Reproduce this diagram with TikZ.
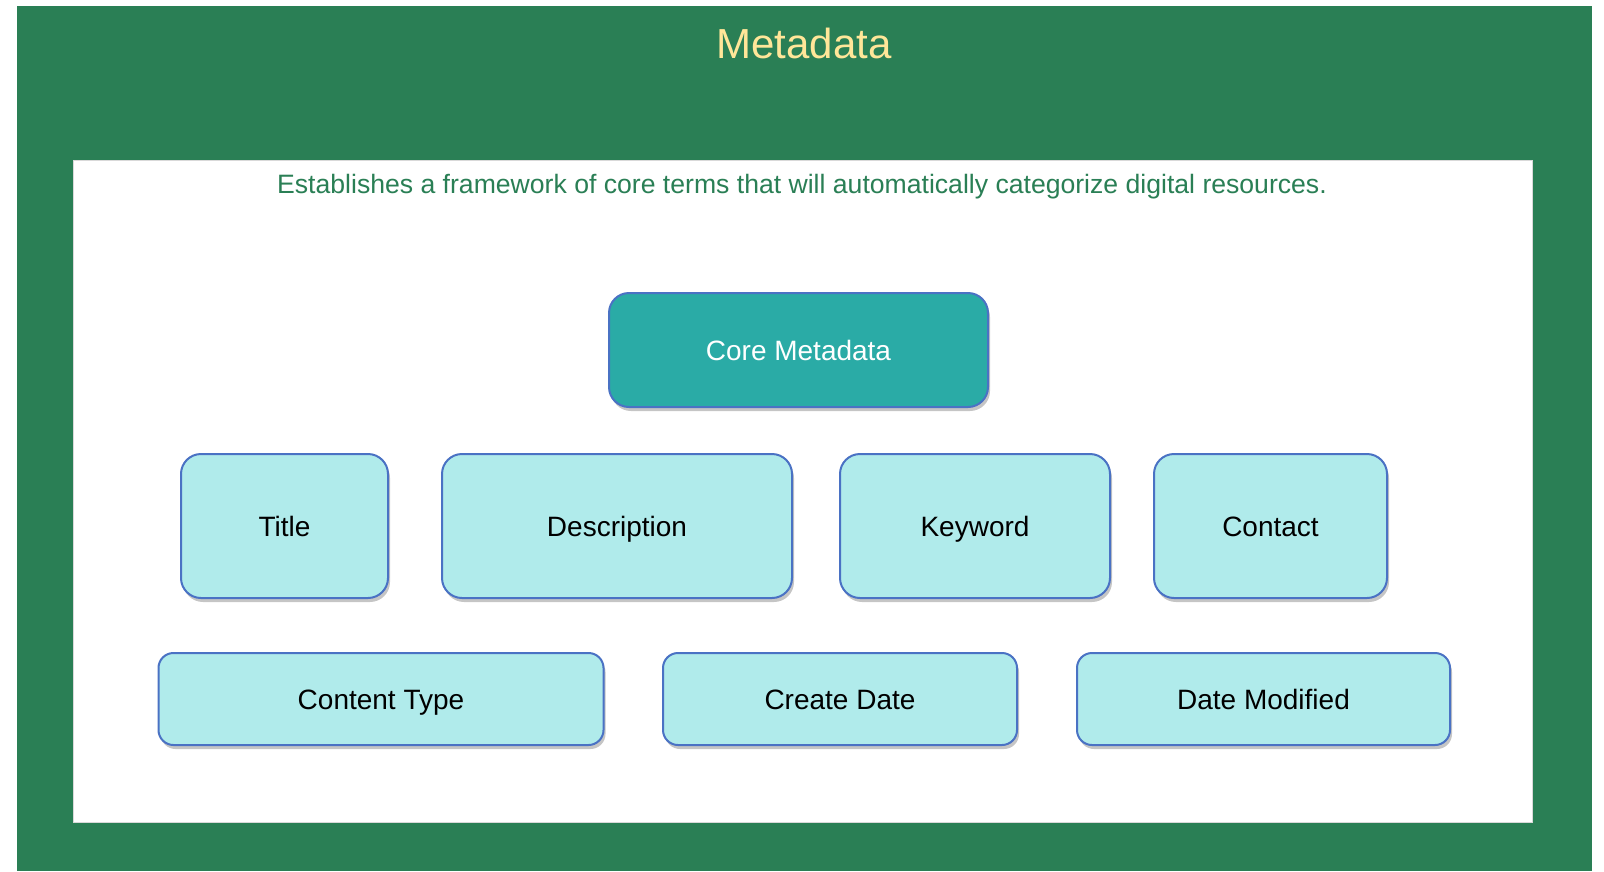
\documentclass[tikz,border=0pt]{standalone}
\usepackage{fontspec}
\setmainfont{Liberation Sans}
\usetikzlibrary{shadows}
\definecolor{bggreen}{RGB}{42,127,85}
\definecolor{titleyellow}{RGB}{255,230,153}
\definecolor{coreteal}{RGB}{42,171,166}
\definecolor{lightcyan}{RGB}{176,235,235}
\definecolor{boxblue}{RGB}{74,114,196}
\tikzset{
  basebox/.style={draw=boxblue, line width=2pt, rounded corners=20pt, align=center,
    font=\fontsize{28}{32}\selectfont, inner sep=0pt, text height=20pt, text depth=0pt,
    drop shadow={opacity=0.45, shadow xshift=2pt, shadow yshift=-4pt}},
  corebox/.style={basebox, fill=coreteal, text=white},
  leafbox/.style={basebox, fill=lightcyan, text=black},
  rowbox/.style={leafbox, rounded corners=15pt}
}
\begin{document}
\begin{tikzpicture}[x=1pt,y=-1pt]
\useasboundingbox (0,0) rectangle (1604,871);
\fill[white] (0,0) rectangle (1604,871);
\fill[bggreen] (17,6) rectangle (1592,871);
\fill[white] (73,160) rectangle (1532,822);
\draw[black!15, line width=0.8pt] (73,160) rectangle (1532,822);
\node[text=titleyellow, font=\fontsize{42}{48}\selectfont] (title) at (804,43) {Metadata};
\node[text=bggreen, font=\fontsize{26.6}{31}\selectfont] (sub) at (802,187) {Establishes a framework of core terms that will automatically categorize digital resources.};
\node[corebox, minimum width=379pt, minimum height=114pt] (core) at (798.5,350) {Core Metadata};
\node[leafbox, minimum width=207pt, minimum height=144pt] (t) at (284.5,526) {Title};
\node[leafbox, minimum width=350pt, minimum height=144pt] (d) at (617,526) {Description};
\node[leafbox, minimum width=270pt, minimum height=144pt] (k) at (975,526) {Keyword};
\node[leafbox, minimum width=233pt, minimum height=144pt] (c) at (1270.5,526) {Contact};
\node[rowbox, minimum width=445pt, minimum height=92pt] (ct) at (381,699) {Content Type};
\node[rowbox, minimum width=354pt, minimum height=92pt] (cd) at (840,699) {Create Date};
\node[rowbox, minimum width=373pt, minimum height=92pt] (dm) at (1263.5,699) {Date Modified};
\end{tikzpicture}
\end{document}
